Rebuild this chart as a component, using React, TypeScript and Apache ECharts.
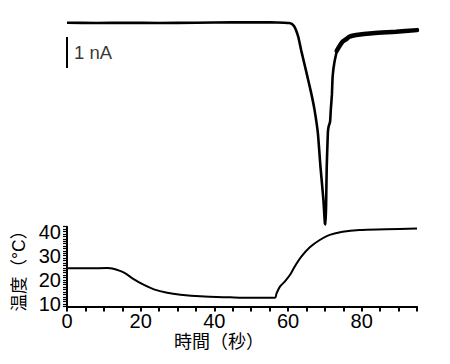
import React, { useEffect, useRef } from "react";
import * as echarts from "echarts";

// Current trace (time in s, current in nA)
const currentTime = [0, 8, 16, 25, 35, 45, 55, 59, 60.3, 61.0, 61.6, 62.2, 62.8, 63.6, 65.0, 66.3, 67.2, 68.1, 68.8, 69.6, 70.0, 70.2, 70.35, 70.5, 70.8, 71.0, 71.4, 71.6, 71.9, 72.1, 72.6, 73.5, 74.8, 75.8, 76.7, 78.5, 82.9, 89.3, 95];
const currentNA = [0.01, 0.0, 0.01, 0.0, 0.01, 0.02, 0.02, 0.01, 0, -0.03, -0.1, -0.24, -0.46, -0.9, -1.6, -2.27, -2.81, -3.56, -4.64, -5.71, -6.46, -6.5, -5.71, -4.64, -3.56, -3.35, -3.19, -2.8, -2.32, -1.73, -1.26, -0.82, -0.6, -0.52, -0.44, -0.39, -0.33, -0.28, -0.23];

// Noisy recovery part (drawn thicker)
const recoveryTime = [73.2, 74.8, 75.8, 76.7, 78.5, 82.9, 89.3, 95];
const recoveryNA = [-0.9, -0.6, -0.52, -0.44, -0.39, -0.33, -0.28, -0.23];

// Scale bar: 1 nA
const scaleBarTime = [0, 0];
const scaleBarNA = [-0.45, -1.45];
const scaleBarLabel = "1 nA";

// Temperature trace (time in s, °C)
const tempTime = [0, 6, 11, 12.3, 15.5, 18.2, 20.9, 23.6, 27.2, 30.8, 36.2, 44.3, 50, 56.4, 56.9, 57.8, 59.1, 60.5, 61.8, 63.6, 65.9, 68.6, 71.3, 74.8, 79.4, 86.6, 95];
const tempC = [24.8, 24.8, 24.9, 24.7, 23.0, 20.2, 17.9, 16.1, 14.7, 13.9, 13.2, 12.8, 12.6, 12.6, 14.5, 17.2, 19.3, 22.0, 25.5, 29.6, 33.5, 36.5, 38.6, 39.9, 40.6, 40.9, 41.3];

const xTickLabels = [0, 20, 40, 60, 80];
const yTickLabels = [10, 20, 30, 40];

const FONT = "'Liberation Sans', 'Noto Sans CJK JP', sans-serif";

const zip = (a: number[], b: number[]) => a.map((v, i) => [v, b[i]]);

export default function App() {
  const ref = useRef<HTMLDivElement>(null);
  useEffect(() => {
    document.body.style.margin = "0";
    const chart = echarts.init(ref.current!, null, { renderer: "svg" });
    const axisCommon = {
      axisLine: { lineStyle: { color: "#000", width: 2 } },
      splitLine: { show: false },
    };
    chart.setOption({
      animation: false,
      backgroundColor: "#fff",
      grid: [
        { left: 67, right: 33, top: 7.5, height: 232.5 },
        { left: 67, right: 33, top: 226.7, height: 79.8 },
      ],
      xAxis: [
        { gridIndex: 0, type: "value", min: 0, max: 95, show: false },
        {
          gridIndex: 1,
          type: "value",
          min: 0,
          max: 95,
          interval: 5,
          ...axisCommon,
          axisTick: { length: 5, lineStyle: { color: "#000", width: 2 } },
          axisLabel: {
            formatter: (v: number) => (xTickLabels.includes(v) ? String(v) : ""),
            color: "#000",
            fontSize: 20,
            margin: 4,
            fontFamily: FONT,
          },
          name: "時間（秒）",
          nameLocation: "middle",
          nameGap: 26,
          nameTextStyle: {
            color: "#000",
            fontSize: 18,
            fontFamily: FONT,
            padding: [0, 46, 0, 0],
          },
        },
      ],
      yAxis: [
        { gridIndex: 0, type: "value", min: -7, max: 0.5, show: false },
        {
          gridIndex: 1,
          type: "value",
          min: 9,
          max: 42,
          interval: 1,
          ...axisCommon,
          axisTick: { length: 4, lineStyle: { color: "#000", width: 1.2 } },
          axisLabel: {
            formatter: (v: number) => (yTickLabels.includes(v) ? String(v) : ""),
            color: "#000",
            fontSize: 20,
            margin: 6,
            fontFamily: FONT,
          },
          name: "温度（°C）",
          nameLocation: "middle",
          nameRotate: 90,
          nameGap: 33,
          nameTextStyle: {
            color: "#000",
            fontSize: 17.5,
            fontFamily: FONT,
          },
        },
      ],
      series: [
        {
          type: "line",
          xAxisIndex: 0,
          yAxisIndex: 0,
          data: zip(currentTime, currentNA),
          symbol: "none",
          smooth: 0.15,
          lineStyle: { color: "#000", width: 2.6 },
        },
        {
          type: "line",
          xAxisIndex: 0,
          yAxisIndex: 0,
          data: zip(recoveryTime, recoveryNA),
          symbol: "none",
          smooth: 0.3,
          lineStyle: { color: "#000", width: 4.5, cap: "round" },
        },
        {
          type: "line",
          xAxisIndex: 0,
          yAxisIndex: 0,
          data: zip(scaleBarTime, scaleBarNA),
          symbol: "none",
          lineStyle: { color: "#000", width: 2 },
        },
        {
          type: "scatter",
          xAxisIndex: 0,
          yAxisIndex: 0,
          data: [[scaleBarTime[0], (scaleBarNA[0] + scaleBarNA[1]) / 2]],
          symbolSize: 0,
          label: {
            show: true,
            position: "right",
            distance: 7,
            formatter: scaleBarLabel,
            color: "#000",
            fontSize: 18.5,
            fontFamily: FONT,
          },
        },
        {
          type: "line",
          xAxisIndex: 1,
          yAxisIndex: 1,
          data: zip(tempTime, tempC),
          symbol: "none",
          smooth: 0.3,
          lineStyle: { color: "#000", width: 2 },
        },
      ],
    });
    return () => chart.dispose();
  }, []);
  return <div ref={ref} style={{ width: 450, height: 364 }} />;
}
